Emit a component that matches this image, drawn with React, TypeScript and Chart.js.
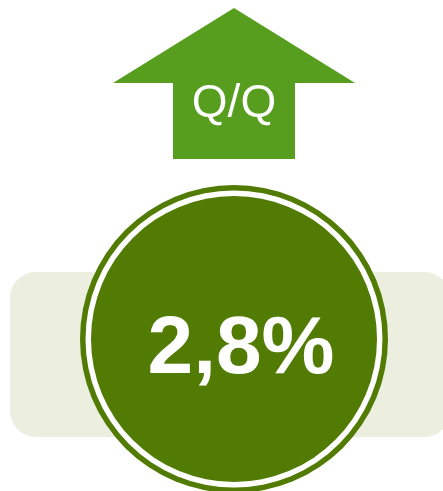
import React, { useEffect, useRef } from "react";
import { Chart, registerables } from "chart.js";

Chart.register(...registerables);

const labels = ["Q/Q"];
const values = [2.8];
const valueText = ["2,8%"];

const ARROW = "#579D1E";
const DARK = "#527B04";
const PANEL = "#ECEFE0";

const decorPlugin = {
  id: "decor",
  beforeDatasetsDraw(chart: any) {
    const arc = chart.getDatasetMeta(0).data[0];
    if (!arc) return;
    const { x: cx, y: cy, outerRadius: R } = arc.getProps(["x", "y", "outerRadius"], true);
    const ctx = chart.ctx;
    ctx.save();
    // panel
    ctx.fillStyle = PANEL;
    ctx.beginPath();
    (ctx as any).roundRect(cx - 224, cy - 67, 440, 165, 26);
    ctx.fill();
    // arrow
    ctx.fillStyle = ARROW;
    ctx.beginPath();
    ctx.moveTo(cx, cy - 331);
    ctx.lineTo(cx + 121, cy - 256);
    ctx.lineTo(cx + 61, cy - 256);
    ctx.lineTo(cx + 61, cy - 180);
    ctx.lineTo(cx - 61, cy - 180);
    ctx.lineTo(cx - 61, cy - 256);
    ctx.lineTo(cx - 121, cy - 256);
    ctx.closePath();
    ctx.fill();
    ctx.fillStyle = "#ffffff";
    ctx.font = "46px 'Liberation Sans', Arial, sans-serif";
    ctx.textAlign = "center";
    ctx.textBaseline = "alphabetic";
    ctx.fillText(labels[0], cx, cy - 222);
    // rings
    ctx.fillStyle = DARK;
    ctx.beginPath();
    ctx.arc(cx, cy, R + 11, 0, Math.PI * 2);
    ctx.fill();
    ctx.fillStyle = "#ffffff";
    ctx.beginPath();
    ctx.arc(cx, cy, R + 5.5, 0, Math.PI * 2);
    ctx.fill();
    ctx.restore();
  },
  afterDatasetsDraw(chart: any) {
    const arc = chart.getDatasetMeta(0).data[0];
    if (!arc) return;
    const { x: cx, y: cy } = arc.getProps(["x", "y"], true);
    const ctx = chart.ctx;
    ctx.save();
    ctx.fillStyle = "#ffffff";
    ctx.font = "bold 82px 'Liberation Sans', Arial, sans-serif";
    ctx.textAlign = "center";
    ctx.textBaseline = "alphabetic";
    ctx.fillText(valueText[0], cx + 7, cy + 34);
    ctx.restore();
  },
};

export default function App() {
  const ref = useRef<HTMLCanvasElement | null>(null);
  useEffect(() => {
    if (!ref.current) return;
    const chart = new Chart(ref.current, {
      type: "pie",
      data: {
        labels,
        datasets: [
          {
            data: values,
            backgroundColor: [DARK],
            borderWidth: 0,
            hoverOffset: 0,
            offset: 0,
          },
        ],
      },
      options: {
        responsive: false,
        animation: false,
        events: [],
        layout: { padding: { left: 91, right: 66, top: 196, bottom: 9 } },
        plugins: {
          legend: { display: false },
          tooltip: { enabled: false },
        },
      },
      plugins: [decorPlugin],
    });
    return () => chart.destroy();
  }, []);
  return (
    <div style={{ position: "absolute", left: 0, top: 0, width: 443, height: 491 }}>
      <canvas ref={ref} width={443} height={491} />
    </div>
  );
}
